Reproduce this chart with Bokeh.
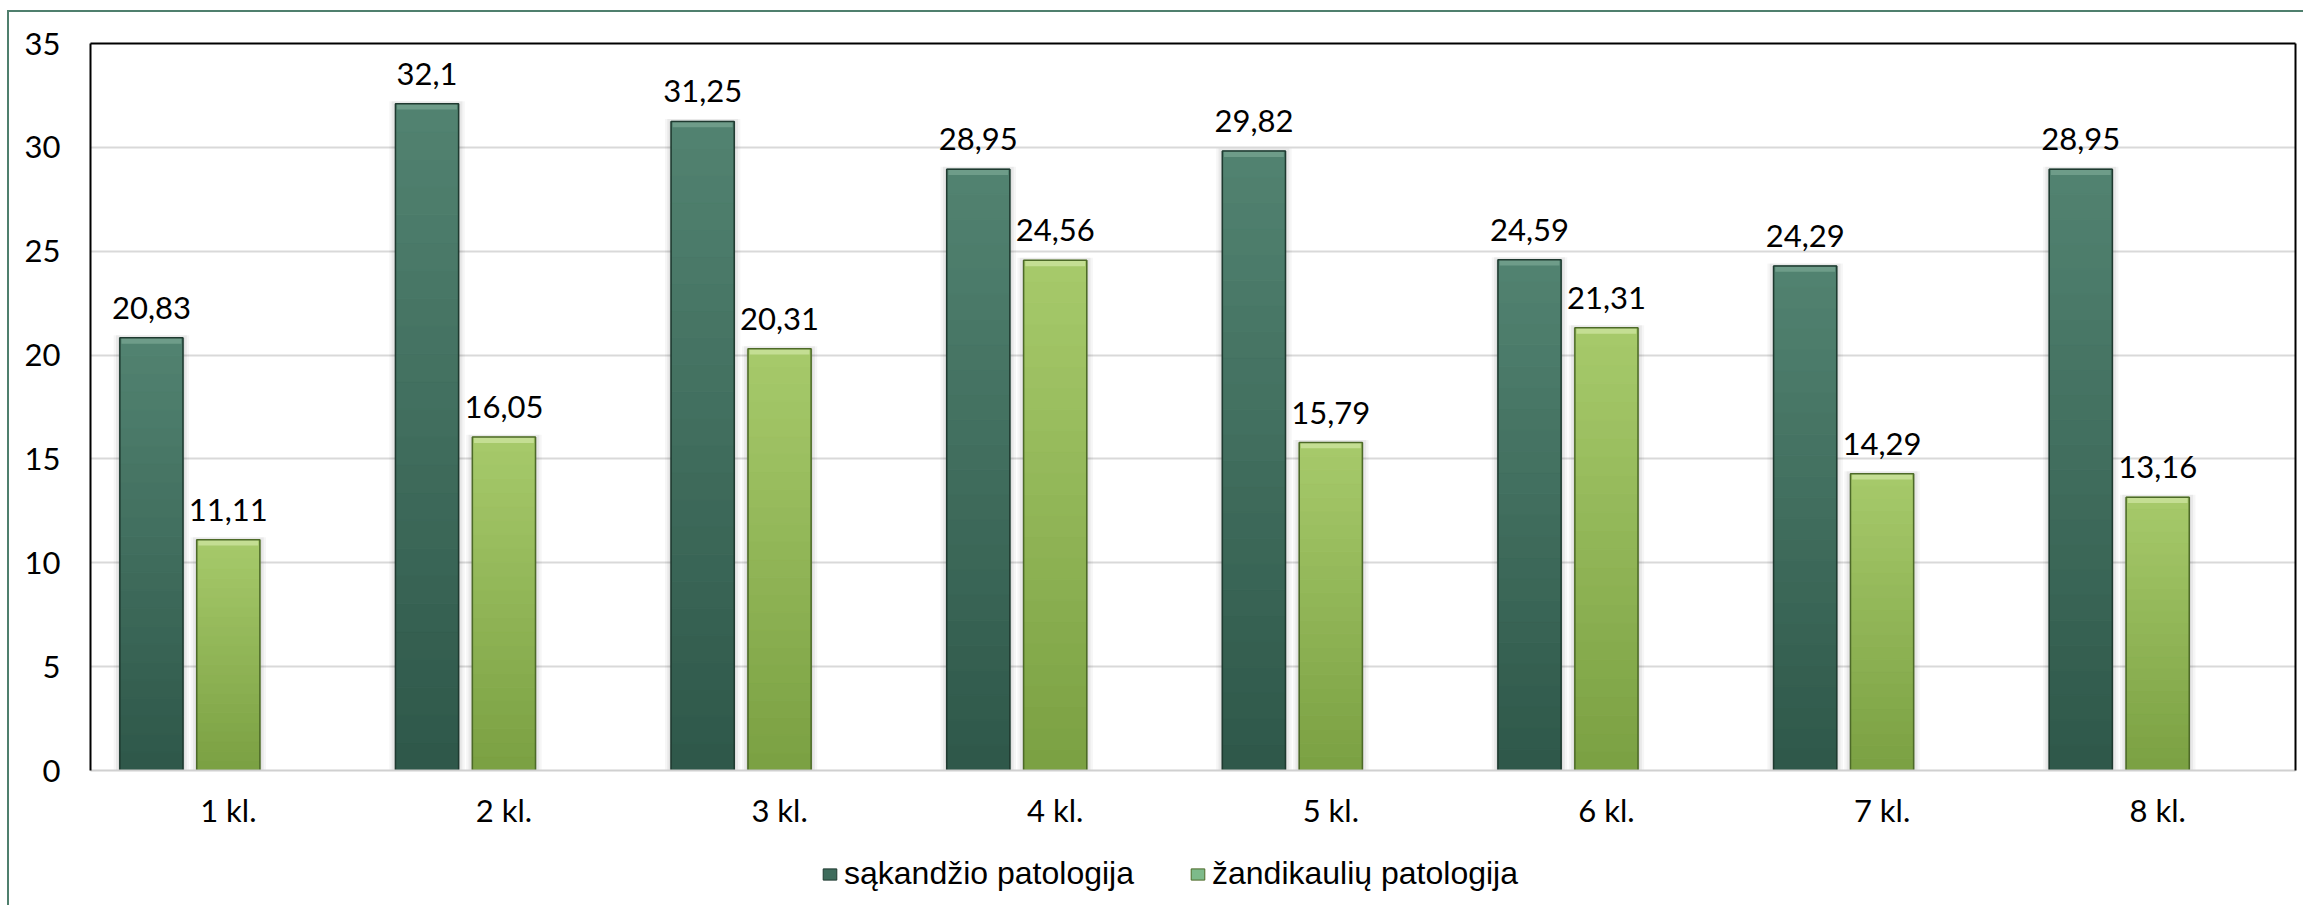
from bokeh.plotting import figure
from bokeh.layouts import column
from bokeh.models import (ColumnDataSource, FactorRange, Range1d, LabelSet, Legend, LegendItem,
                          LinearAxis, FixedTicker)
from bokeh.transform import dodge
from bokeh.core.properties import value
from bokeh.embed import file_html
from bokeh.resources import INLINE

categories = ["1 kl.", "2 kl.", "3 kl.", "4 kl.", "5 kl.", "6 kl.", "7 kl.", "8 kl."]
sakandzio = [20.83, 32.1, 31.25, 28.95, 29.82, 24.59, 24.29, 28.95]
zandikauliu = [11.11, 16.05, 20.31, 24.56, 15.79, 21.31, 14.29, 13.16]
series_names = ["sąkandžio patologija", "žandikaulių patologija"]
y_ticks = [0, 5, 10, 15, 20, 25, 30, 35]

TICK_FONT = "Lato"
FS = "31px"
BAR_W = 0.229
OFFSETS = [-0.279, 0.0]
N_SLICES = 24

styles = [
    dict(bottom=(46, 87, 73), top=(82, 131, 113), bevel="#6e9c89", edge="#1f3a30", legend="#3e6c5c"),
    dict(bottom=(122, 160, 66), top=(167, 202, 107), bevel="#c4de93", edge="#4d6a28", legend="#7dba8a"),
]

W = 2294
H1, H2 = 828, 65
p = figure(width=W, height=H1, x_range=FactorRange(*categories), y_range=Range1d(0, 35),
           output_backend="svg", toolbar_location=None,
           min_border_left=81, min_border_right=8, min_border_top=31, min_border_bottom=70)
p.outline_line_color = None
p.background_fill_color = "white"
p.border_fill_color = "white"

p.xgrid.grid_line_color = None
p.ygrid.grid_line_color = "#d9d9d9"
p.ygrid.grid_line_width = 2

p.yaxis.ticker = FixedTicker(ticks=y_ticks)
for ax in (p.yaxis[0], p.xaxis[0]):
    ax.major_tick_out = 0
    ax.major_tick_in = 0
    ax.minor_tick_out = 0
    ax.minor_tick_in = 0
    ax.major_label_text_font = TICK_FONT
    ax.major_label_text_font_size = FS
    ax.major_label_text_color = "black"
p.yaxis.axis_line_color = "black"
p.yaxis.axis_line_width = 2
p.yaxis.major_label_standoff = 30
p.xaxis.axis_line_color = "#d0d0d0"
p.xaxis.axis_line_width = 2
p.xaxis.major_label_standoff = 20

for side in ("right", "above"):
    ax = LinearAxis(ticker=FixedTicker(ticks=[]), axis_line_color="black", axis_line_width=2,
                    major_tick_out=0, major_tick_in=0, minor_tick_out=0, minor_tick_in=0,
                    major_label_standoff=0)
    p.add_layout(ax, side)


def lerp(c1, c2, t):
    return "#%02x%02x%02x" % tuple(round(a + (b - a) * t) for a, b in zip(c1, c2))


# legend-only figure below the chart
p2 = figure(width=W, height=H2, x_range=Range1d(0, 1), y_range=Range1d(0, 1),
            output_backend="svg", toolbar_location=None, min_border=0,
            x_axis_location=None, y_axis_location=None)
p2.grid.visible = False
p2.outline_line_color = None
p2.background_fill_color = "white"
p2.border_fill_color = "white"

legend_items = []
for si, (vals, off, st) in enumerate(zip([sakandzio, zandikauliu], OFFSETS, styles)):
    xd = dodge("cat", off, range=p.x_range)
    base = ColumnDataSource(dict(cat=categories, val=vals,
                                 label=[("%g" % v).replace(".", ",") for v in vals],
                                 sh1=[v + 0.12 for v in vals],
                                 bev=[v - 0.28 for v in vals]))
    # soft shadow
    p.vbar(x=xd, width=BAR_W + 0.045, top="sh1", bottom=0, source=base,
           fill_color="black", fill_alpha=0.035, line_color=None)
    p.vbar(x=xd, width=BAR_W + 0.028, top="sh1", bottom=0, source=base,
           fill_color="black", fill_alpha=0.05, line_color=None)
    p.vbar(x=xd, width=BAR_W + 0.012, top="val", bottom=0, source=base,
           fill_color="black", fill_alpha=0.07, line_color=None)
    # gradient slices
    cats, bots, tops, cols = [], [], [], []
    for c, v in zip(categories, vals):
        for k in range(N_SLICES):
            cats.append(c)
            bots.append(v * k / N_SLICES)
            tops.append(v * (k + 1) / N_SLICES)
            cols.append(lerp(st["bottom"], st["top"], (k + 0.5) / N_SLICES))
    sl = ColumnDataSource(dict(cat=cats, bottom=bots, top=tops, color=cols))
    p.vbar(x=xd, width=BAR_W, top="top", bottom="bottom", source=sl,
           fill_color="color", line_color="color", line_width=1)
    # bevel highlight at top
    p.vbar(x=xd, width=BAR_W - 0.012, top="val", bottom="bev", source=base,
           fill_color=st["bevel"], line_color=None)
    # edge outline
    p.vbar(x=xd, width=BAR_W, top="val", bottom=0, source=base,
           fill_color=None, line_color=st["edge"], line_width=1.5)
    # data labels
    labels = LabelSet(x=xd, y="val", text="label", source=base, text_align="center",
                      text_baseline="alphabetic", y_offset=19, text_font=value(TICK_FONT),
                      text_font_size=value(FS), text_color="black")
    p.add_layout(labels)
    # legend proxy: hidden renderer, only its legend swatch is shown
    proxy_src = ColumnDataSource(dict(x=[0.5], top=[0.5]))
    proxy = p2.vbar(x="x", top="top", bottom=0, width=0.1, source=proxy_src,
                    fill_color=st["legend"], line_color=st["edge"], line_width=1)
    proxy.visible = False
    legend_items.append(LegendItem(label=series_names[si], renderers=[proxy]))

legend = Legend(items=legend_items, orientation="horizontal", location=(731, 13),
                glyph_width=17, glyph_height=14, label_standoff=6, spacing=55, padding=10,
                border_line_color=None, background_fill_alpha=0,
                inactive_fill_alpha=0,
                label_text_font="Liberation Sans", label_text_font_size="32px",
                label_text_color="black")
p2.add_layout(legend)

layout = column(p, p2, spacing=0,
                styles={"margin-left": "7px", "margin-top": "10px",
                        "border-left": "2px solid #4f7f6d", "border-top": "2px solid #4f7f6d"})

open("out.html", "w").write(file_html(layout, INLINE))
